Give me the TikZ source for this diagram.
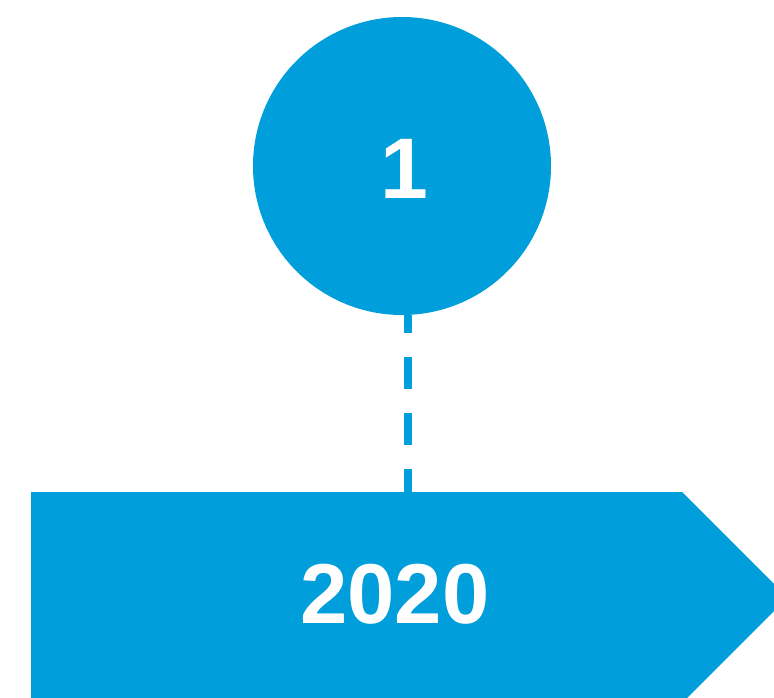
\documentclass[tikz,border=0pt]{standalone}
\usepackage{fontspec}
\setmainfont{Liberation Sans}
\usetikzlibrary{calc,positioning}
\definecolor{tlblue}{RGB}{0,158,218}

\begin{document}
\begin{tikzpicture}[x=1pt,y=-1pt,inner sep=0pt]
\useasboundingbox (0,0) rectangle (774,698);

\coordinate (A) at (31,492);
\coordinate (B) at (682,492);
\coordinate (C) at (787.5,597.5);
\coordinate (D) at (682,703);
\coordinate (E) at (31,703);
\coordinate (T) at (408,492);

\begin{scope}
\clip (0,0) rectangle (774,698);
\fill[tlblue] (A)--(B)--(C)--(D)--(E)--cycle;
\end{scope}

\node[circle,fill=tlblue,minimum size=298pt] (one) at (402,166) {};
\node[text=white,font=\fontsize{86}{86}\selectfont\bfseries] (num) at (404,169) {1};
\node[text=white,font=\fontsize{85}{85}\selectfont\bfseries] (year) at (395,594) {2020};

\draw[tlblue,line width=7.5pt,dash pattern=on 32pt off 24pt,dash phase=14pt] (one.south -| T) -- (T);
\end{tikzpicture}
\end{document}
